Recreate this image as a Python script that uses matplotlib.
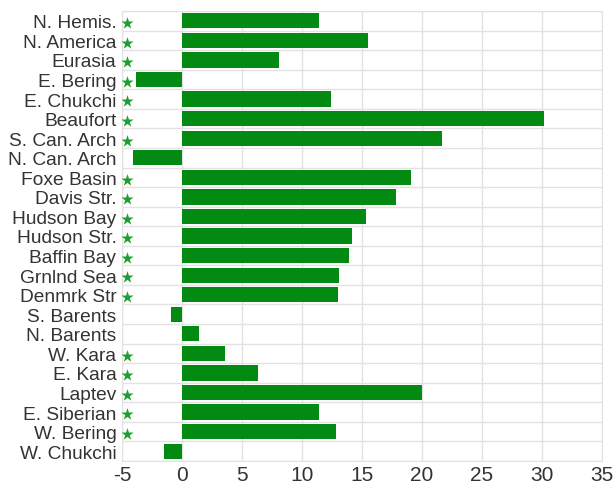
import numpy as np
import matplotlib
matplotlib.use("Agg")
import matplotlib.pyplot as plt

regions = ["N. Hemis.", "N. America", "Eurasia", "E. Bering", "E. Chukchi",
           "Beaufort", "S. Can. Arch", "N. Can. Arch", "Foxe Basin", "Davis Str.",
           "Hudson Bay", "Hudson Str.", "Baffin Bay", "Grnlnd Sea", "Denmrk Str",
           "S. Barents", "N. Barents", "W. Kara", "E. Kara", "Laptev",
           "E. Siberian", "W. Bering", "W. Chukchi"]
trend = [11.4, 15.5, 8.1, -3.8, 12.4,
         30.2, 21.7, -4.1, 19.1, 17.8,
         15.3, 14.2, 13.9, 13.1, 13.0,
         -0.9, 1.4, 3.6, 6.3, 20.0,
         11.4, 12.8, -1.5]
significant = [True, True, True, True, True,
               True, True, False, True, True,
               True, True, True, True, True,
               False, False, True, True, True,
               True, True, False]

plt.rcParams['font.family'] = ['Liberation Sans', 'DejaVu Sans']
plt.rcParams['axes.unicode_minus'] = False

fig = plt.figure(figsize=(6.16, 4.85), dpi=100)
ax = fig.add_axes([122 / 616, 23 / 485, 480 / 616, 450 / 485])

y = np.arange(len(regions))
ax.barh(y, trend, height=0.78, color='#028a12', zorder=3)

# stars for significant trends
sig_y = [yy for yy, s in zip(y, significant) if s]
ax.scatter([-4.55] * len(sig_y), np.array(sig_y) + 0.12, marker='*', s=85,
           color='#1f9f2f', linewidths=0, zorder=4)

ax.set_xlim(-5, 35)
ax.set_ylim(len(regions) - 0.5, -0.5)
ax.set_xticks(np.arange(-5, 36, 5))
ax.set_yticks(y)
ax.set_yticklabels(regions)
ax.set_yticks(np.arange(-0.5, len(regions), 1), minor=True)

ax.grid(True, axis='x', which='major', color='#e2e2e2', linewidth=1, zorder=0)
ax.grid(True, axis='y', which='minor', color='#e2e2e2', linewidth=1, zorder=0)
ax.tick_params(axis='both', which='both', length=0)
ax.tick_params(axis='y', labelsize=13.8, labelcolor='#333333', pad=4)
ax.tick_params(axis='x', labelsize=15, labelcolor='#333333', pad=3)
for side in ax.spines.values():
    side.set_color('#e2e2e2')

fig.savefig("out.png", dpi=100)
